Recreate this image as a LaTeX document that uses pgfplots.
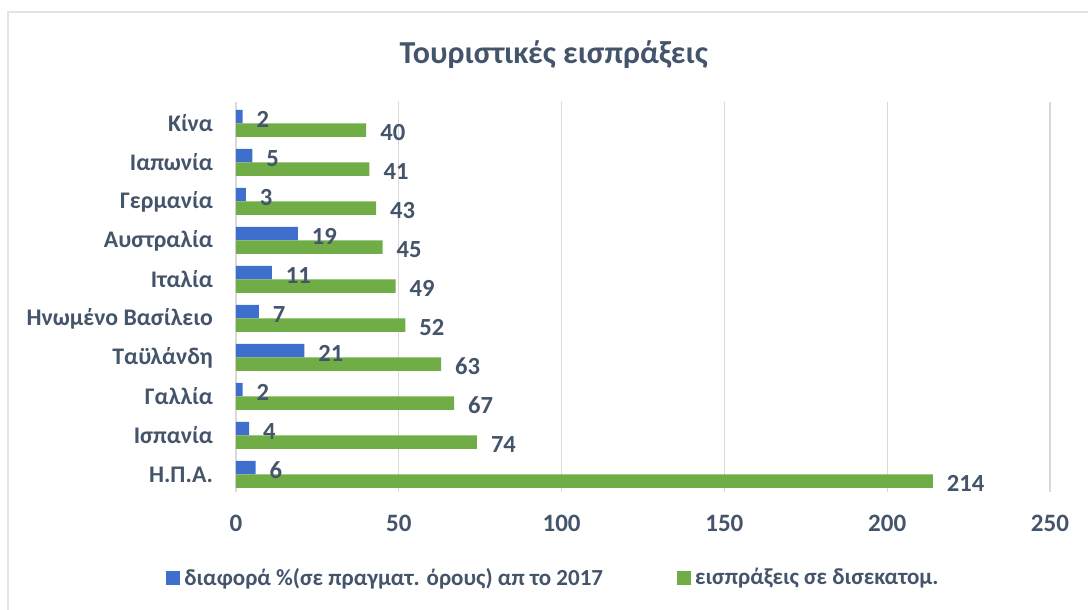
\documentclass[border=0pt]{standalone}
\usepackage{fontspec}
\setmainfont{Carlito}
\usepackage{pgfplots}
\pgfplotsset{compat=1.18}
\definecolor{txt}{HTML}{44546A}
\definecolor{gridc}{HTML}{D9D9D9}
\definecolor{frame}{HTML}{E1E4E8}
\definecolor{barblue}{HTML}{3F6FCD}
\definecolor{bargreen}{HTML}{70AD47}

\begin{document}
\begin{tikzpicture}
% page is 1088x610 px at 0.5pt per px
\path[use as bounding box] (0,0) rectangle (544pt,305pt);
\draw[frame, line width=1pt] (4pt,0) -- (4pt,299pt) -- (544pt,299pt);
\begin{axis}[
    at={(118pt,59pt)}, anchor=south west,
    scale only axis, width=407pt, height=195pt,
    xmin=0, xmax=250, ymin=-0.45, ymax=9.55,
    xtick={0,50,...,250},
    ytick={0,...,9},
    yticklabels={Η.Π.Α., Ισπανία, Γαλλία, Ταϋλάνδη, Ηνωμένο Βασίλειο,
                 Ιταλία, Αυστραλία, Γερμανία, Ιαπωνία, Κίνα},
    xmajorgrids, major grid style={gridc, line width=0.6pt},
    axis line style={draw=none}, tick style={draw=none},
    /pgf/number format/assume math mode=true,
    ticklabel style={font=\fontsize{11.9}{12}\selectfont\bfseries, text=txt},
    xticklabel style={font=\fontsize{12.5}{12}\selectfont\bfseries, yshift=-8pt},
    yticklabel style={xshift=-8pt},
    title={Τουριστικές εισπράξεις},
    title style={at={(axis description cs:0.3903,1.092)}, anchor=center,
        font=\fontsize{16}{16}\selectfont\bfseries, text=txt},
    legend columns=2,
    legend style={at={(axis description cs:-0.0934,-0.2205)}, anchor=west,
        draw=none, fill=none,
        font=\fontsize{11.5}{12}\selectfont\bfseries, text=txt,
        /tikz/every even column/.append style={column sep=35pt}},
    legend image code/.code={\fill[#1] (0pt,-3.5pt) rectangle (7pt,3.5pt);},
    point meta=x,
    nodes near coords,
    every node near coord/.append style={anchor=west, xshift=3.5pt,
        font=\fontsize{12.3}{12}\selectfont\bfseries, text=txt},
]
\addplot[xbar, bar width=6.75pt, bar shift=3.4pt, draw=none,
    fill=barblue,
    every node near coord/.append style={yshift=2pt}] coordinates {
    (6,0) (4,1) (2,2) (21,3) (7,4) (11,5) (19,6) (3,7) (5,8) (2,9)
};
\addlegendentry{διαφορά \%(σε πραγματ. όρους) απ το 2017}
\addplot[xbar, bar width=6.75pt, bar shift=-3.4pt, draw=none,
    fill=bargreen,
    every node near coord/.append style={yshift=-4.5pt}] coordinates {
    (214,0) (74,1) (67,2) (63,3) (52,4) (49,5) (45,6) (43,7) (41,8) (40,9)
};
\addlegendentry{εισπράξεις σε δισεκατομ.}
\end{axis}
\end{tikzpicture}
\end{document}
